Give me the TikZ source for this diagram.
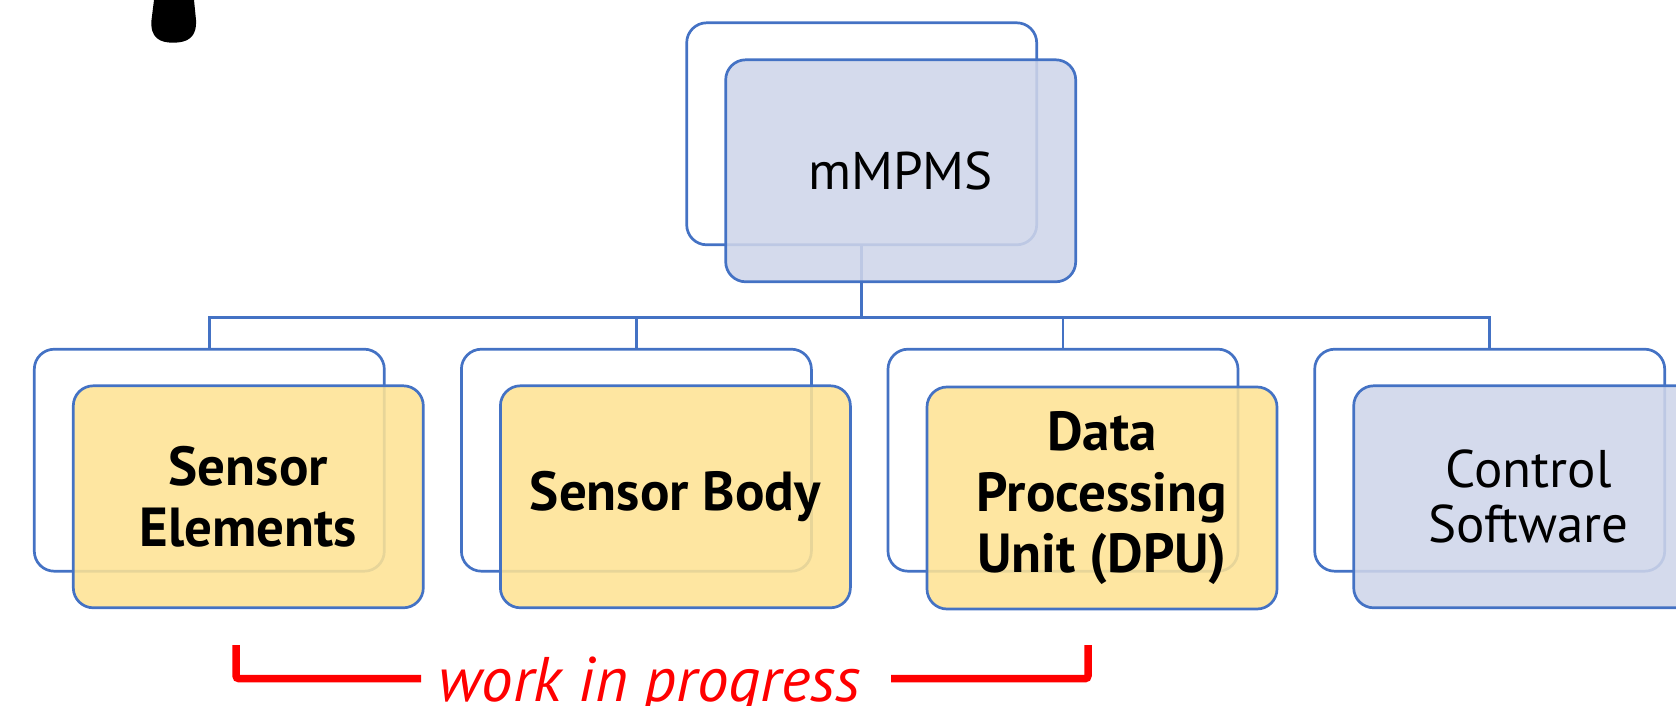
\documentclass[tikz,border=0pt]{standalone}
\usepackage{fontspec}
\setmainfont{PT Sans}
\definecolor{lineblue}{RGB}{68,114,196}
\definecolor{boxblue}{RGB}{206,213,233}
\definecolor{boxyellow}{RGB}{254,227,148}
\definecolor{wipred}{RGB}{255,0,0}
\begin{document}
\begin{tikzpicture}[x=0.5pt, y=-0.5pt,
    back/.style={draw=lineblue, line width=1.35pt, rounded corners=10pt, minimum width=175pt, minimum height=111pt, inner sep=0pt},
    front/.style={back, fill opacity=0.88, draw opacity=1, text opacity=1, align=center},
    bluebox/.style={front, fill=boxblue, font=\fontsize{26.5}{27.5}\selectfont},
    yellowbox/.style={front, fill=boxyellow, font=\fontsize{27.5}{30.5}\selectfont\bfseries},
    link/.style={draw=lineblue, line width=1.35pt},
    bracket/.style={draw=wipred, line width=3.75pt, rounded corners=1.5pt}]
    \useasboundingbox (0,0) rectangle (1676,706);
    \clip (0,0) rectangle (1676,706);

    \fill (154,0) -- (151.5,20) .. controls (150,38) and (160,42.7) .. (173,42.7) .. controls (187,42.7) and (197,38) .. (196,20) -- (194,0) -- cycle;

    \node[back] (mmpmsB) at (861.7, 133.8) {};
    \node[back] (senselB) at (209.3, 460.2) {};
    \node[back] (sensbodyB) at (636.4, 460.2) {};
    \node[back] (dpuB) at (1063, 460.2) {};
    \node[back] (ctrlB) at (1489.7, 460.2) {};

    \foreach \kid in {sensel, sensbody, dpu, ctrl}
        \draw[link] (mmpmsB.south) -- ++(0,71.5) -| (\kid B.north);

    \node[bluebox] (mmpms) at (900.7, 170.8) {mMPMS};
    \node[yellowbox] (sensel) at (248.3, 496.8) {Sensor\\Elements};
    \node[yellowbox] (sensbody) at (675.4, 496.8) {Sensor Body};
    \node[yellowbox] (dpu) at (1102, 498) {Data\\Processing\\Unit (DPU)};
    \node[bluebox] (ctrl) at (1528.7, 496.8) {Control\\Software};

    \node[text=wipred, anchor=base, font=\fontsize{31.5}{38}\selectfont\itshape] (wip) at (649.5, 701) {work in progress};
    \coordinate (wipL) at (236, 645);
    \coordinate (wipLend) at (421, 678.7);
    \coordinate (wipR) at (1088, 645);
    \coordinate (wipRend) at (891, 678.7);
    \draw[bracket] (wipL) |- (wipLend);
    \draw[bracket] (wipR) |- (wipRend);
\end{tikzpicture}
\end{document}
